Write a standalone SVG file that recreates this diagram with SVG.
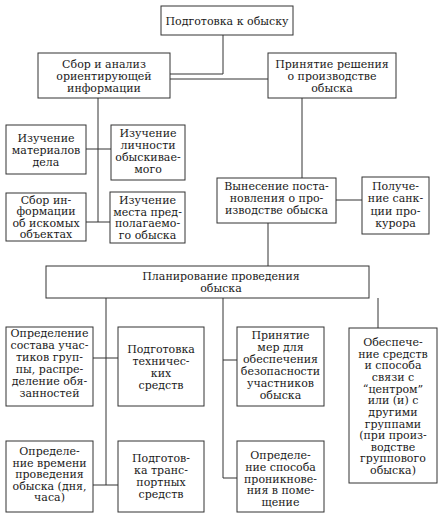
<svg xmlns="http://www.w3.org/2000/svg" width="443" height="517" viewBox="0 0 443 517">
<style>
.box{fill:#fff;stroke:#333;stroke-width:1}
.c{fill:none;stroke:#333;stroke-width:1}
text{font-family:"DejaVu Serif","Liberation Serif",serif;font-size:11px;fill:#1a1a1a;text-anchor:middle}
</style>
<rect width="443" height="517" fill="#fff"/>
<g id="connectors">
<path class="c" d="M223,35 V74 H170"/>
<path class="c" d="M170,79 H268"/>
<path class="c" d="M98,98 V222"/>
<path class="c" d="M86,149 H111"/>
<path class="c" d="M86,222 H110"/>
<path class="c" d="M302,98 V178"/>
<path class="c" d="M336,200 H362"/>
<path class="c" d="M268,223 V266"/>
<path class="c" d="M106,298 V485"/>
<path class="c" d="M93,358 H118"/>
<path class="c" d="M93,485 H118"/>
<path class="c" d="M223,298 V478 H237"/>
<path class="c" d="M223,360 H237"/>
<path class="c" d="M378,298 V328"/>
</g>
<g id="n-prep"><rect class="box" x="161" y="6" width="132" height="29"/><text x="227" y="25">Подготовка к обыску</text></g>
<g id="n-collect"><rect class="box" x="38" y="53" width="132" height="45"/><text><tspan x="104" y="67.5">Сбор и анализ</tspan><tspan x="104" y="79.5">ориентирующей</tspan><tspan x="104" y="91.5">информации</tspan></text></g>
<g id="n-decide"><rect class="box" x="268" y="53" width="128" height="45"/><text><tspan x="332" y="67.5">Принятие решения</tspan><tspan x="332" y="79.5">о производстве</tspan><tspan x="332" y="91.5">обыска</tspan></text></g>
<g id="n-materials"><rect class="box" x="6" y="125" width="80" height="49"/><text><tspan x="46" y="141.5">Изучение</tspan><tspan x="46" y="153.5">материалов</tspan><tspan x="46" y="165.5">дела</tspan></text></g>
<g id="n-person"><rect class="box" x="111" y="125" width="74" height="55"/><text><tspan x="148" y="136.5">Изучение</tspan><tspan x="148" y="148.5">личности</tspan><tspan x="148" y="160.5">обыскивае-</tspan><tspan x="148" y="172.5">мого</tspan></text></g>
<g id="n-objects"><rect class="box" x="6" y="193" width="80" height="48"/><text><tspan x="46" y="203.5">Сбор ин-</tspan><tspan x="46" y="215">формации</tspan><tspan x="46" y="226.5">об искомых</tspan><tspan x="46" y="238">объектах</tspan></text></g>
<g id="n-place"><rect class="box" x="110" y="192" width="75" height="51"/><text><tspan x="147.5" y="204">Изучение</tspan><tspan x="147.5" y="215.5">места пред-</tspan><tspan x="147.5" y="227">полагаемо-</tspan><tspan x="147.5" y="238.5">го обыска</tspan></text></g>
<g id="n-order"><rect class="box" x="217" y="178" width="119" height="45"/><text><tspan x="276.5" y="189.5">Вынесение поста-</tspan><tspan x="276.5" y="201.5">новления о про-</tspan><tspan x="276.5" y="213.5">изводстве обыска</tspan></text></g>
<g id="n-sanction"><rect class="box" x="362" y="177" width="67" height="57"/><text><tspan x="395.5" y="190">Получе-</tspan><tspan x="395.5" y="202">ние санк-</tspan><tspan x="395.5" y="214.5">ции про-</tspan><tspan x="395.5" y="227">курора</tspan></text></g>
<g id="n-plan"><rect class="box" x="46" y="266" width="323" height="32"/><text><tspan x="221" y="280">Планирование проведения</tspan><tspan x="221" y="292">обыска</tspan></text></g>
<g id="n-staff"><rect class="box" x="6" y="327" width="87" height="79"/><text><tspan x="49.5" y="337">Определение</tspan><tspan x="49.5" y="349">состава учас-</tspan><tspan x="49.5" y="361">тиков груп-</tspan><tspan x="49.5" y="373">пы, распре-</tspan><tspan x="49.5" y="385">деление обя-</tspan><tspan x="49.5" y="397">занностей</tspan></text></g>
<g id="n-tech"><rect class="box" x="118" y="327" width="86" height="79"/><text><tspan x="161" y="352.5">Подготовка</tspan><tspan x="161" y="364.5">техничес-</tspan><tspan x="161" y="376.5">ких</tspan><tspan x="161" y="388.5">средств</tspan></text></g>
<g id="n-safety"><rect class="box" x="237" y="327" width="87" height="79"/><text><tspan x="280.5" y="339">Принятие</tspan><tspan x="280.5" y="351">мер для</tspan><tspan x="280.5" y="363">обеспечения</tspan><tspan x="280.5" y="375">безопасности</tspan><tspan x="280.5" y="387">участников</tspan><tspan x="280.5" y="399">обыска</tspan></text></g>
<g id="n-comm"><rect class="box" x="349" y="328" width="88" height="155"/><text><tspan x="393" y="346">Обеспече-</tspan><tspan x="393" y="357.6">ние средств</tspan><tspan x="393" y="369.3">и способа</tspan><tspan x="393" y="380.9">связи с</tspan><tspan x="393" y="392.6">“центром”</tspan><tspan x="393" y="404.2">или (и) с</tspan><tspan x="393" y="415.8">другими</tspan><tspan x="393" y="427.5">группами</tspan><tspan x="393" y="439.1">(при произ-</tspan><tspan x="393" y="450.8">водстве</tspan><tspan x="393" y="462.4">группового</tspan><tspan x="393" y="474">обыска)</tspan></text></g>
<g id="n-time"><rect class="box" x="6" y="441" width="87" height="71"/><text><tspan x="49.5" y="455">Определе-</tspan><tspan x="49.5" y="466.5">ние времени</tspan><tspan x="49.5" y="478">проведения</tspan><tspan x="49.5" y="489.5">обыска (дня,</tspan><tspan x="49.5" y="501">часа)</tspan></text></g>
<g id="n-transport"><rect class="box" x="118" y="441" width="86" height="71"/><text><tspan x="161" y="462">Подготов-</tspan><tspan x="161" y="474">ка транс-</tspan><tspan x="161" y="486">портных</tspan><tspan x="161" y="497.5">средств</tspan></text></g>
<g id="n-entry"><rect class="box" x="237" y="441" width="87" height="71"/><text><tspan x="280.5" y="459">Определе-</tspan><tspan x="280.5" y="471">ние способа</tspan><tspan x="280.5" y="482.5">проникнове-</tspan><tspan x="280.5" y="494">ния в поме-</tspan><tspan x="280.5" y="506">щение</tspan></text></g>
</svg>
